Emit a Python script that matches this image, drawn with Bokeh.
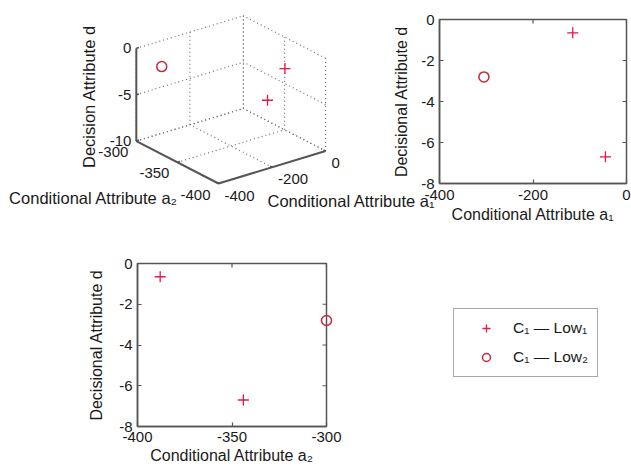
import numpy as np
from bokeh.plotting import figure
from bokeh.models import Range1d, FixedTicker, Legend, LegendItem
from bokeh.embed import file_html
from bokeh.resources import INLINE
from bokeh.core.properties import value

# ---------------- data ----------------
a1 = [-115, -45, -305]          # Conditional Attribute a1
a2 = [-388, -344, -300]         # Conditional Attribute a2
d = [-0.65, -6.7, -2.8]         # Decision attribute d
cls = ["Low1", "Low1", "Low2"]
label_low1 = "C\u2081 \u2014 Low\u2081"
label_low2 = "C\u2081 \u2014 Low\u2082"

a1_ticks = [-400, -200, 0]
a2_ticks = [-400, -350, -300]
d3_ticks = [-10, -5, 0]
d2_ticks = [-8, -6, -4, -2, 0]
a1_lim = (-400, 0)
a2_lim = (-400, -300)
d3_lim = (-10, 0)
d2_lim = (-8, 0)

# ---------------- style ----------------
W, H = 631, 471
FONT = "Liberation Sans"
PLUS = "#e8174a"
CIRC = "#c8283e"
AXC = "#555555"
TXT = "#1a1a1a"

i1 = [i for i, c in enumerate(cls) if c == "Low1"]
i2 = [i for i, c in enumerate(cls) if c == "Low2"]
pick = lambda arr, idx: [arr[i] for i in idx]

# ---------------- 3D panel (orthographic projection, MATLAB default view) ----------------
AZ, EL = np.radians(-37.5), np.radians(30.0)
SX, SY = 135.0, 107.0
X0, Y0 = 218.0, H - 183.0


def proj(x, y, z):
    u = (np.asarray(x, float) - a1_lim[0]) / (a1_lim[1] - a1_lim[0])
    v = (np.asarray(y, float) - a2_lim[0]) / (a2_lim[1] - a2_lim[0])
    w = (np.asarray(z, float) - d3_lim[0]) / (d3_lim[1] - d3_lim[0])
    px = X0 + SX * (np.cos(AZ) * u + np.sin(AZ) * v)
    py = Y0 + SY * (-np.sin(EL) * np.sin(AZ) * u + np.sin(EL) * np.cos(AZ) * v + np.cos(EL) * w)
    return px, py


p3 = figure(width=W, height=H, x_range=Range1d(0, W), y_range=Range1d(0, H),
            x_axis_type=None, y_axis_type=None, min_border=0,
            outline_line_color=None, background_fill_alpha=0, border_fill_alpha=0,
            output_backend="svg", toolbar_location=None)

segs = []
for t in a1_ticks:
    segs.append(((t, a2_lim[1], d3_lim[0]), (t, a2_lim[1], d3_lim[1])))
    segs.append(((t, a2_lim[0], d3_lim[0]), (t, a2_lim[1], d3_lim[0])))
for t in a2_ticks:
    segs.append(((a1_lim[1], t, d3_lim[0]), (a1_lim[1], t, d3_lim[1])))
    segs.append(((a1_lim[0], t, d3_lim[0]), (a1_lim[1], t, d3_lim[0])))
for t in d3_ticks:
    segs.append(((a1_lim[0], a2_lim[1], t), (a1_lim[1], a2_lim[1], t)))
    segs.append(((a1_lim[1], a2_lim[0], t), (a1_lim[1], a2_lim[1], t)))
s0 = np.array([s[0] for s in segs]).T
s1 = np.array([s[1] for s in segs]).T
gx0, gy0 = proj(*s0)
gx1, gy1 = proj(*s1)
p3.segment(gx0, gy0, gx1, gy1, line_color="#707070", line_width=1.2, line_dash="1 3")

# solid axes
ax_s = [(a1_lim[0], a2_lim[1], d3_lim[0]), (a1_lim[0], a2_lim[0], d3_lim[0]), (a1_lim[0], a2_lim[0], d3_lim[0])]
ax_e = [(a1_lim[0], a2_lim[1], d3_lim[1]), (a1_lim[0], a2_lim[1], d3_lim[0]), (a1_lim[1], a2_lim[0], d3_lim[0])]
ax0, ay0 = proj(*np.array(ax_s).T)
ax1, ay1 = proj(*np.array(ax_e).T)
p3.segment(ax0, ay0, ax1, ay1, line_color=AXC, line_width=2)

# small ticks
TL = 0.025
tk_s, tk_e = [], []
for t in d3_ticks:
    tk_s.append((a1_lim[0], a2_lim[1], t))
    tk_e.append((a1_lim[0] + TL * (a1_lim[1] - a1_lim[0]), a2_lim[1], t))
for t in a2_ticks:
    tk_s.append((a1_lim[0], t, d3_lim[0]))
    tk_e.append((a1_lim[0] + TL * (a1_lim[1] - a1_lim[0]), t, d3_lim[0]))
for t in a1_ticks:
    tk_s.append((t, a2_lim[0], d3_lim[0]))
    tk_e.append((t, a2_lim[0] + TL * (a2_lim[1] - a2_lim[0]), d3_lim[0]))
tx0, ty0 = proj(*np.array(tk_s).T)
tx1, ty1 = proj(*np.array(tk_e).T)
p3.segment(tx0, ty0, tx1, ty1, line_color=AXC, line_width=1.5)

# tick labels
zx, zy = proj([a1_lim[0]] * 3, [a2_lim[1]] * 3, d3_ticks)
p3.text(zx - 5, zy, text=[str(t) for t in d3_ticks], text_align="right", text_baseline="middle",
        text_font=value(FONT), text_font_size=value("15px"), text_color=TXT)
bx, by = proj([a1_lim[0]] * 3, a2_ticks, [d3_lim[0]] * 3)
p3.text(bx - 8, by - 11, text=[str(t) for t in a2_ticks], text_align="right", text_baseline="middle",
        text_font=value(FONT), text_font_size=value("15px"), text_color=TXT)
cx, cy = proj(a1_ticks, [a2_lim[0]] * 3, [d3_lim[0]] * 3)
p3.text(cx + 6, cy - 12, text=[str(t) for t in a1_ticks], text_align="left", text_baseline="middle",
        text_font=value(FONT), text_font_size=value("15px"), text_color=TXT)

# axis labels
p3.text([88], [H - 96], text=["Decision Attribute d"], angle=np.pi / 2, text_align="center",
        text_baseline="middle", text_font=value(FONT), text_font_size=value("16.5px"), text_color=TXT)
p3.text([93], [H - 197], text=["Conditional Attribute a\u2082"], text_align="center",
        text_baseline="middle", text_font=value(FONT), text_font_size=value("16.5px"), text_color=TXT)
p3.text([267], [H - 200], text=["Conditional Attribute a\u2081"], text_align="left",
        text_baseline="middle", text_font=value(FONT), text_font_size=value("16.5px"), text_color=TXT)

# data points in 3D
px1, py1 = proj(pick(a1, i1), pick(a2, i1), pick(d, i1))
px2, py2 = proj(pick(a1, i2), pick(a2, i2), pick(d, i2))
r_plus = p3.scatter(px1, py1, marker="cross", size=11, line_color=PLUS, line_width=1.3)
r_circ = p3.scatter(px2, py2, marker="circle", size=10, fill_color=None, line_color=CIRC, line_width=1.5)

legend = Legend(items=[LegendItem(label=label_low1, renderers=[r_plus]),
                       LegendItem(label=label_low2, renderers=[r_circ])],
                location=(453, H - 377), padding=9, spacing=9, margin=0,
                glyph_width=46, glyph_height=20, label_height=20, label_standoff=4,
                label_text_font=FONT, label_text_font_size="15.5px", label_text_color=TXT,
                border_line_color=AXC, border_line_width=1.5, background_fill_color="white",
                background_fill_alpha=1)
p3.add_layout(legend, "center")


# ---------------- 2D panels ----------------
def style_axis(ax, ticks, label, standoff, label_standoff):
    ax.ticker = FixedTicker(ticks=ticks)
    ax.major_label_overrides = {t: str(t) for t in ticks}
    ax.axis_label = label
    ax.axis_label_text_font = FONT
    ax.axis_label_text_font_size = "16px"
    ax.axis_label_text_font_style = "normal"
    ax.axis_label_text_color = TXT
    ax.axis_label_standoff = label_standoff
    ax.major_label_text_font = FONT
    ax.major_label_text_font_size = "15px"
    ax.major_label_text_color = TXT
    ax.major_label_standoff = standoff
    ax.major_tick_in = 4
    ax.major_tick_out = 0
    ax.minor_tick_line_color = None
    ax.axis_line_color = AXC
    ax.axis_line_width = 1.5
    ax.major_tick_line_color = AXC
    ax.major_tick_line_width = 1.2


def panel(xlim, xticks, xlabel, ylabel, fl, ft, fw, fh, x_std, x_lab_std, y_lab_std):
    p = figure(width=W, height=H, x_range=Range1d(*xlim), y_range=Range1d(*d2_lim),
               min_border_left=fl, min_border_top=ft, min_border_right=W - fl - fw,
               min_border_bottom=H - ft - fh, border_fill_alpha=0, background_fill_color="white",
               outline_line_color=AXC, outline_line_width=1.5,
               output_backend="svg", toolbar_location=None)
    p.grid.visible = False
    style_axis(p.xaxis[0], xticks, xlabel, x_std, x_lab_std)
    style_axis(p.yaxis[0], d2_ticks, ylabel, 5, y_lab_std)
    # mirrored inward tick marks on the top and right edges
    p.ray(x=xticks, y=[d2_lim[1]] * len(xticks), length=4, length_units="screen",
          angle=-np.pi / 2, line_color=AXC, line_width=1.2)
    p.ray(x=[xlim[1]] * len(d2_ticks), y=d2_ticks, length=4, length_units="screen",
          angle=np.pi, line_color=AXC, line_width=1.2)
    return p


def overlay(xlim, ylim, fl, ft, fw, fh, xs1, ys1, xs2, ys2):
    pl, pt = min(8, fl), min(8, ft)
    pr_, pb_ = min(8, W - fl - fw), min(8, H - ft - fh)
    dx = (xlim[1] - xlim[0]) / fw
    dy = (ylim[1] - ylim[0]) / fh
    o = figure(width=W, height=H,
               x_range=Range1d(xlim[0] - pl * dx, xlim[1] + pr_ * dx),
               y_range=Range1d(ylim[0] - pb_ * dy, ylim[1] + pt * dy),
               x_axis_type=None, y_axis_type=None,
               min_border_left=fl - pl, min_border_top=ft - pt,
               min_border_right=W - fl - fw - pr_, min_border_bottom=H - ft - fh - pb_,
               outline_line_color=None, background_fill_alpha=0, border_fill_alpha=0,
               output_backend="svg", toolbar_location=None)
    o.scatter(xs1, ys1, marker="cross", size=11, line_color=PLUS, line_width=1.3)
    o.scatter(xs2, ys2, marker="circle", size=10, fill_color=None, line_color=CIRC, line_width=1.5)
    return o


# top-right: a1 vs d
R = (439, 19, 187, 164)
pr = panel(a1_lim, a1_ticks, "Conditional Attribute a\u2081", "Decisional Attribute d", *R, 6, 3, 8)
orr = overlay(a1_lim, d2_lim, *R, pick(a1, i1), pick(d, i1), pick(a1, i2), pick(d, i2))

# bottom-left: a2 vs d
B = (137, 263, 189, 163)
pb = panel(a2_lim, a2_ticks, "Conditional Attribute a\u2082", "Decisional Attribute d", *B, 5, 2, 11)
obb = overlay(a2_lim, d2_lim, *B, pick(a2, i1), pick(d, i1), pick(a2, i2), pick(d, i2))

# independent roots, stacked on top of each other (no frame alignment between them)
for f in (pr, pb, orr, obb):
    f.margin = (-H, 0, 0, 0)

open("out.html", "w").write(file_html([p3, pr, pb, orr, obb], INLINE))
